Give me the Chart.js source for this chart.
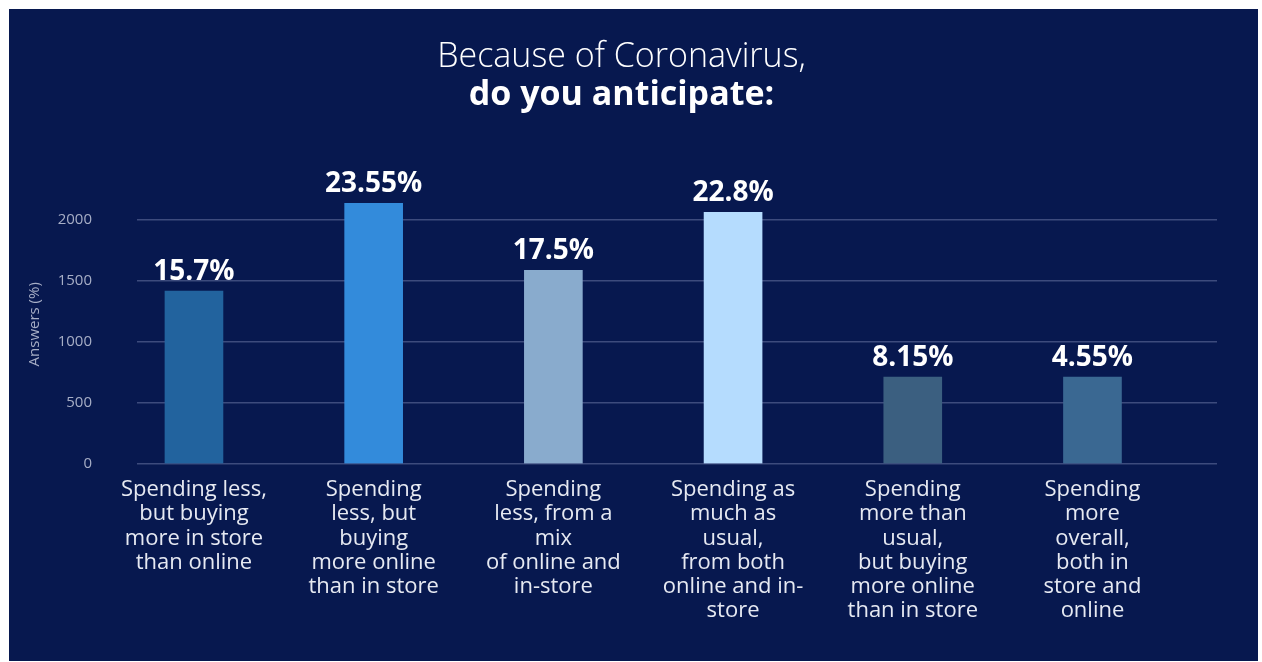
<!DOCTYPE html>
<html>
<head>
<meta charset="utf-8">
<script src="https://cdn.jsdelivr.net/npm/chart.js@4.4.1/dist/chart.umd.min.js"></script>
<style>
  html, body { margin: 0; padding: 0; background: #ffffff; }
  #frame {
    position: absolute; left: 9px; top: 9px;
    width: 1249px; height: 652px;
    background: #07184f;
  }
</style>
</head>
<body>
<div id="frame"><canvas id="chart" width="1249" height="652"></canvas></div>
<script>
/* ---- datos ---- */
const categorias = [
  ["Spending less,", "but buying", "more in store", "than online"],
  ["Spending", "less, but", "buying", "more online", "than in store"],
  ["Spending", "less, from a", "mix", "of online and", "in-store"],
  ["Spending as", "much as", "usual,", "from both", "online and in-", "store"],
  ["Spending", "more than", "usual,", "but buying", "more online", "than in store"],
  ["Spending", "more", "overall,", "both in", "store and", "online"]
];
const respuestas  = [1417, 2138, 1587, 2064, 712, 712];
const porcentajes = ["15.7%", "23.55%", "17.5%", "22.8%", "8.15%", "4.55%"];
const coloresBarra = ["#22639e", "#338bdb", "#89abcd", "#b5dcfe", "#3b5f80", "#3a6892"];
const ticksY = [0, 500, 1000, 1500, 2000];

const FUENTE = "'Open Sans', 'Noto Sans', sans-serif";

/* etiqueta de porcentaje sobre cada barra */
const etiquetasBarra = {
  id: "etiquetasBarra",
  afterDatasetsDraw(chart) {
    const ctx = chart.ctx;
    const meta = chart.getDatasetMeta(0);
    ctx.save();
    ctx.fillStyle = "#ffffff";
    ctx.font = "bold 28px " + FUENTE;
    ctx.textAlign = "center";
    ctx.textBaseline = "alphabetic";
    meta.data.forEach((barra, i) => {
      ctx.fillText(porcentajes[i], barra.x, barra.y - 11);
    });
    ctx.restore();
  }
};

new Chart(document.getElementById("chart"), {
  type: "bar",
  data: {
    datasets: [{
      data: respuestas.map((v, i) => ({ x: i, y: v })),
      backgroundColor: coloresBarra,
      barThickness: 58,
      borderWidth: 0
    }]
  },
  options: {
    responsive: false,
    animation: false,
    layout: { padding: { left: 17, right: 41, top: 30, bottom: 24 } },
    plugins: {
      legend: { display: false },
      tooltip: { enabled: false },
      title: {
        display: true,
        text: "Because of Coronavirus,",
        color: "#ffffff",
        font: { family: FUENTE, size: 34, weight: "300", lineHeight: 1.1 },
        padding: { top: 0, bottom: 0 }
      },
      subtitle: {
        display: true,
        text: "do you anticipate:",
        color: "#ffffff",
        font: { family: FUENTE, size: 34, weight: "bold", lineHeight: 1.1 },
        padding: { top: 0, bottom: 71 }
      }
    },
    scales: {
      x: {
        type: "linear",
        offset: false,
        min: -0.317,
        max: 5.693,
        afterBuildTicks: axis => { axis.ticks = categorias.map((c, i) => ({ value: i })); },
        // las etiquetas largas no deben empujar el área del gráfico
        afterFit: axis => { axis.paddingLeft = 0; axis.paddingRight = 0; },
        grid: { display: false, drawTicks: false },
        border: { display: false },
        ticks: {
          color: "#e6e9f2",
          font: { family: FUENTE, size: 22, lineHeight: 1.1 },
          padding: 14,
          maxRotation: 0,
          autoSkip: false,
          callback: v => categorias[v]
        }
      },
      y: {
        min: 0,
        max: 2290,
        afterBuildTicks: axis => { axis.ticks = ticksY.map(v => ({ value: v })); },
        // ancho fijo del eje: título a la izquierda, números pegados a la rejilla
        afterFit: axis => { axis.width = 111; },
        grid: { color: "#3d4b7d", lineWidth: 1.5, drawTicks: false },
        border: { display: false },
        ticks: {
          color: "#a7aec6",
          font: { family: FUENTE, size: 15 },
          padding: 45,
          callback: v => String(v)
        },
        title: {
          display: true,
          text: "Answers (%)",
          color: "#a7aec6",
          font: { family: FUENTE, size: 15 },
          padding: { top: 0, bottom: 0 }
        }
      }
    }
  },
  plugins: [etiquetasBarra]
});
</script>
</body>
</html>
